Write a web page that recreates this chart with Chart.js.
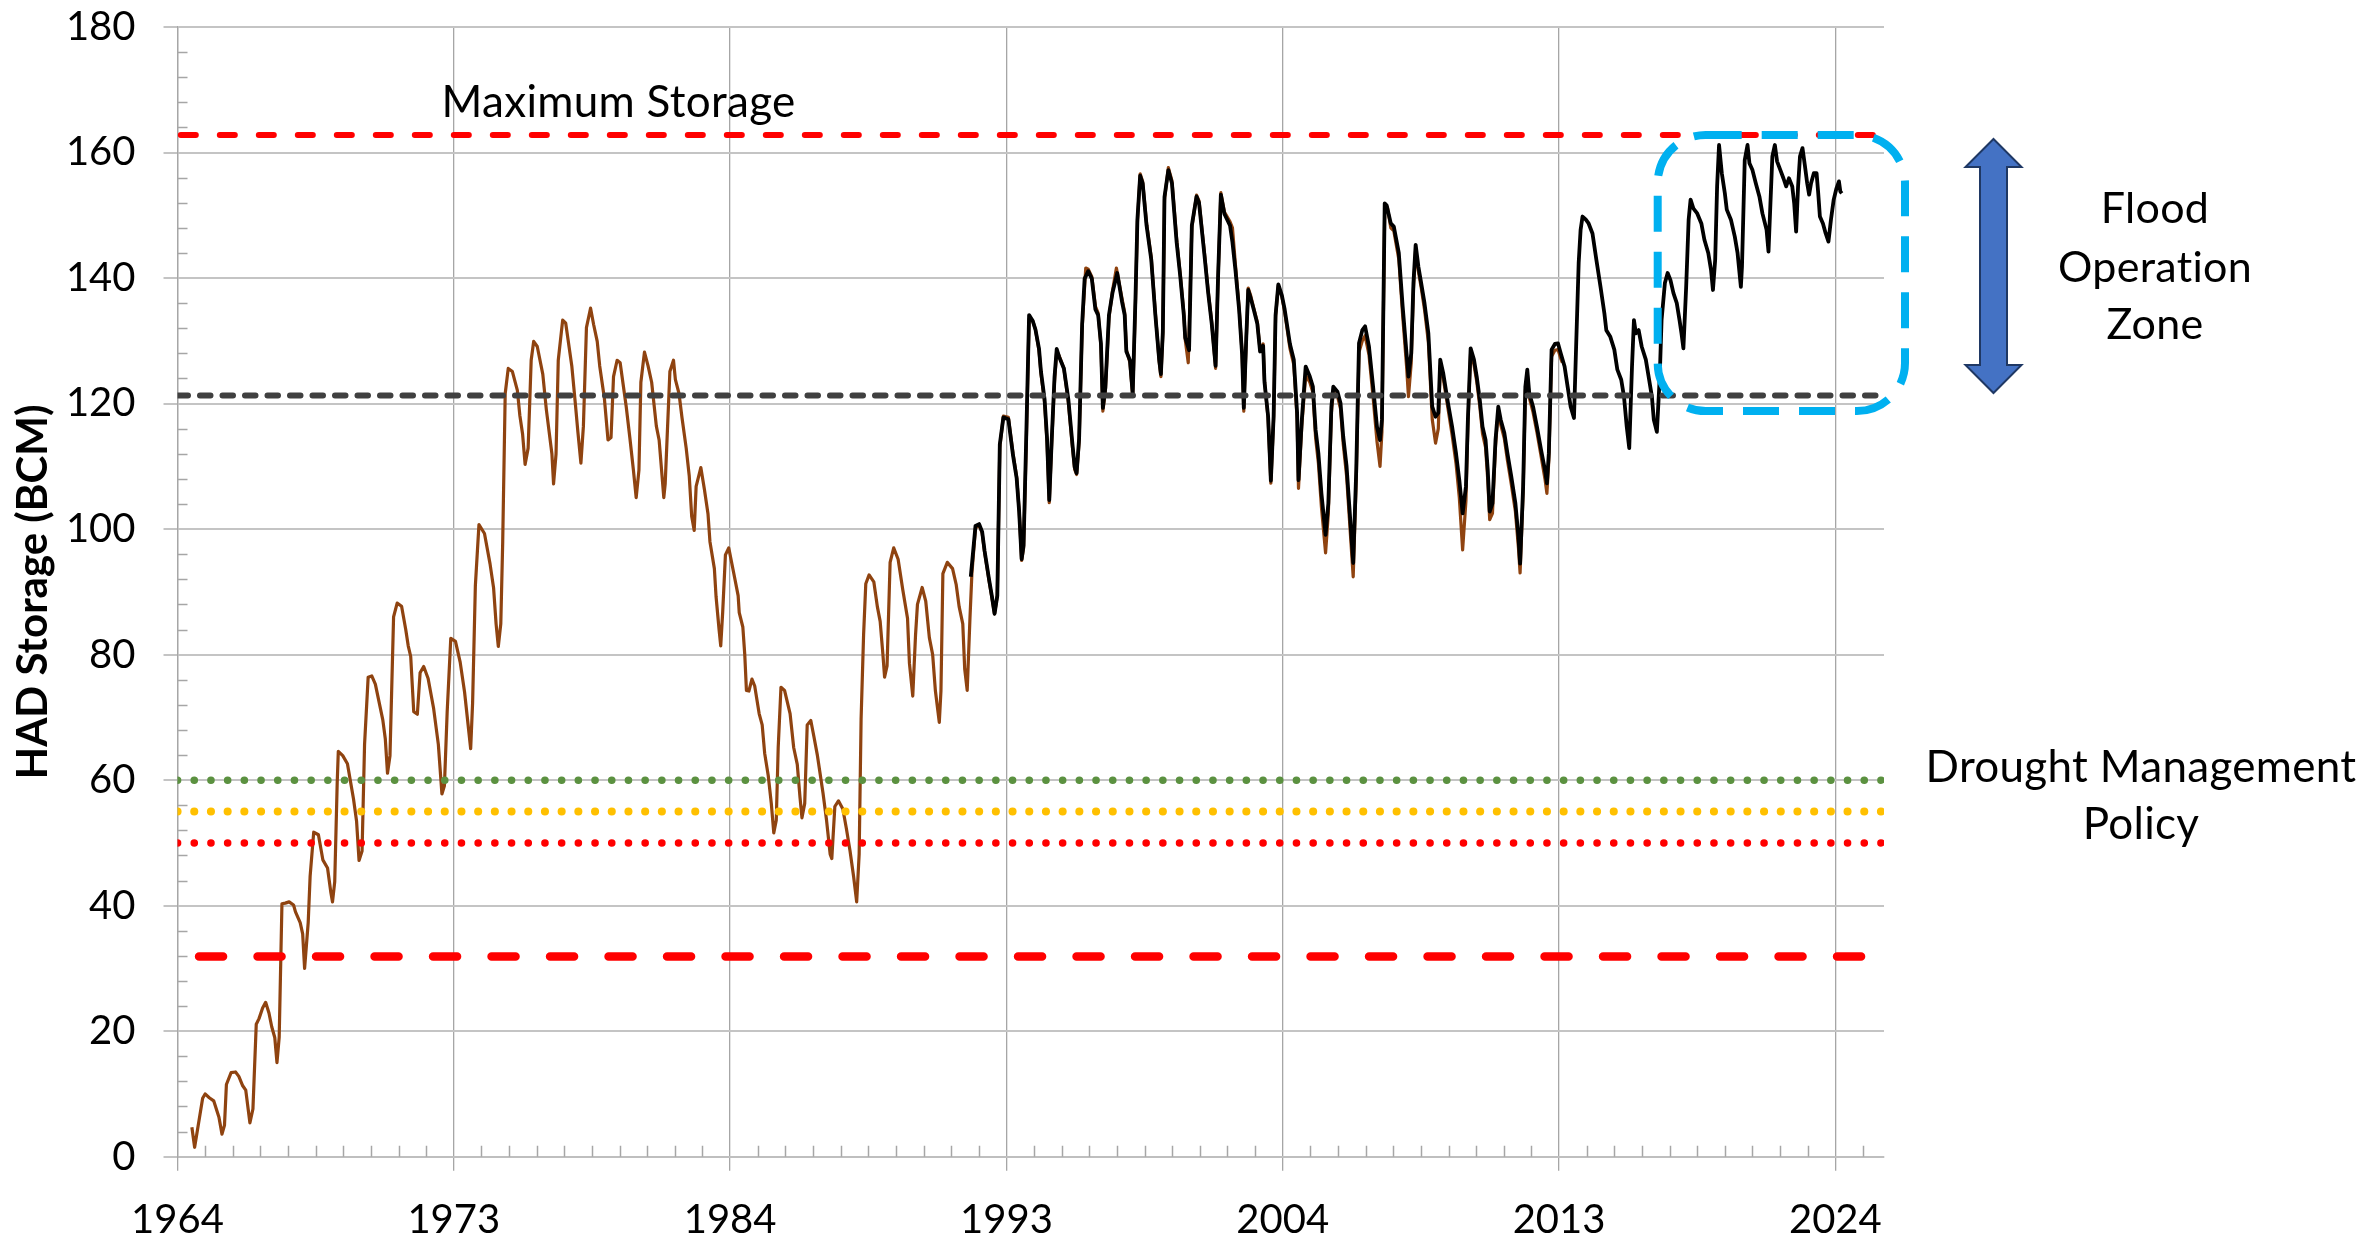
<!DOCTYPE html>
<html>
<head>
<meta charset="utf-8">
<title>HAD Storage</title>
<script src="https://cdn.jsdelivr.net/npm/chart.js@4.4.1/dist/chart.umd.min.js"></script>
<style>
  html, body { margin: 0; padding: 0; background: #fff; }
  .chart-container { position: relative; width: 2364px; height: 1239px; }
</style>
</head>
<body>
<div class="chart-container"><canvas id="storageChart"></canvas></div>
<script>
// x positions are decimal years along the date axis
const tickYears = [1964, 1974, 1984, 1994, 2004, 2014, 2024];
const tickLabels = ['1964', '1973', '1984', '1993', '2004', '2013', '2024'];

// reference levels (BCM)
const maxStorage = 162.8;
const floodLevel = 121.3;
const droughtGreen = 60;
const droughtAmber = 55;
const droughtRed = 50;
const deadStorage = 31.9;

// older record (brown), [year, BCM]
const historicStorage = [
  [1964.52, 4.7], [1964.62, 1.5], [1964.78, 5.8], [1964.91, 9.3], [1965.0, 10.0], [1965.15, 9.4], [1965.31, 8.9],
  [1965.5, 6.3], [1965.61, 3.6], [1965.7, 5.0], [1965.77, 11.5], [1965.94, 13.4], [1966.1, 13.5], [1966.22, 12.8],
  [1966.36, 11.3], [1966.47, 10.6], [1966.62, 5.4], [1966.73, 7.6], [1966.85, 21.1], [1966.95, 22.0], [1967.08, 23.7],
  [1967.19, 24.6], [1967.31, 22.9], [1967.41, 20.7], [1967.52, 19.0], [1967.6, 15.0], [1967.68, 19.0], [1967.78, 40.3],
  [1967.9, 40.4], [1968.04, 40.6], [1968.2, 40.1], [1968.27, 39.0], [1968.44, 37.3], [1968.53, 35.5], [1968.6, 30.0],
  [1968.73, 37.3], [1968.8, 44.7], [1968.93, 51.7], [1969.1, 51.3], [1969.26, 47.3], [1969.43, 46.0], [1969.55, 42.1],
  [1969.61, 40.6], [1969.69, 43.8], [1969.78, 59.6], [1969.82, 64.6], [1969.98, 63.9], [1970.15, 62.6], [1970.37, 57.0],
  [1970.48, 53.5], [1970.57, 47.2], [1970.68, 48.7], [1970.77, 65.7], [1970.9, 76.4], [1971.03, 76.6], [1971.16, 75.3],
  [1971.43, 69.6], [1971.52, 66.6], [1971.6, 61.1], [1971.69, 63.9], [1971.82, 86.0], [1971.95, 88.2], [1972.11, 87.7],
  [1972.26, 84.0], [1972.35, 81.4], [1972.44, 79.7], [1972.55, 70.9], [1972.68, 70.5], [1972.78, 77.1], [1972.91, 78.1],
  [1973.07, 76.2], [1973.27, 71.4], [1973.44, 65.7], [1973.57, 57.8], [1973.66, 59.1], [1973.76, 70.9], [1973.89, 82.6],
  [1974.06, 82.1], [1974.23, 78.8], [1974.39, 74.0], [1974.61, 65.0], [1974.68, 72.3], [1974.78, 91.0], [1974.91, 100.7],
  [1975.11, 99.3], [1975.31, 94.5], [1975.44, 90.6], [1975.53, 84.9], [1975.61, 81.3], [1975.7, 84.9], [1975.77, 98.0],
  [1975.86, 121.6], [1975.97, 125.6], [1976.12, 125.1], [1976.3, 122.1], [1976.39, 118.1], [1976.49, 115.1], [1976.58, 110.3],
  [1976.69, 112.9], [1976.8, 126.9], [1976.89, 129.9], [1977.02, 129.1], [1977.22, 124.7], [1977.35, 119.0], [1977.55, 112.0],
  [1977.61, 107.2], [1977.7, 112.0], [1977.78, 126.9], [1977.94, 133.3], [1978.05, 132.8], [1978.27, 126.0], [1978.4, 119.9],
  [1978.49, 115.5], [1978.6, 110.5], [1978.69, 116.4], [1978.8, 132.1], [1978.95, 135.2], [1979.06, 132.6], [1979.19, 129.9],
  [1979.28, 126.0], [1979.45, 120.8], [1979.58, 114.2], [1979.69, 114.6], [1979.78, 124.3], [1979.91, 126.9], [1980.02, 126.5],
  [1980.24, 119.5], [1980.37, 114.6], [1980.5, 109.4], [1980.6, 105.0], [1980.7, 109.4], [1980.77, 123.4], [1980.9, 128.2],
  [1981.03, 126.0], [1981.16, 123.4], [1981.33, 116.4], [1981.43, 114.2], [1981.6, 105.0], [1981.65, 107.2], [1981.82, 125.1],
  [1981.95, 126.9], [1982.02, 123.8], [1982.15, 121.6], [1982.26, 117.7], [1982.41, 112.9], [1982.52, 108.5], [1982.61, 102.0],
  [1982.7, 99.8], [1982.77, 106.8], [1982.94, 109.8], [1983.07, 106.3], [1983.2, 102.4], [1983.27, 98.0], [1983.43, 93.7],
  [1983.49, 89.3], [1983.6, 84.0], [1983.66, 81.4], [1983.73, 86.7], [1983.83, 95.9], [1983.95, 97.0], [1984.13, 93.0],
  [1984.29, 89.4], [1984.33, 86.7], [1984.46, 84.4], [1984.53, 80.0], [1984.59, 74.3], [1984.68, 74.2], [1984.79, 76.1],
  [1984.89, 75.0], [1985.05, 70.6], [1985.16, 68.8], [1985.25, 64.3], [1985.38, 60.7], [1985.49, 56.3], [1985.58, 51.6],
  [1985.67, 53.6], [1985.74, 65.2], [1985.84, 74.8], [1985.97, 74.3], [1986.17, 70.6], [1986.3, 65.2], [1986.43, 62.5],
  [1986.53, 57.2], [1986.6, 54.0], [1986.7, 56.3], [1986.79, 68.8], [1986.92, 69.5], [1987.03, 67.0], [1987.16, 63.9],
  [1987.36, 58.0], [1987.49, 53.6], [1987.62, 48.2], [1987.68, 47.5], [1987.79, 55.8], [1987.92, 56.7], [1988.08, 55.4],
  [1988.21, 52.2], [1988.34, 48.7], [1988.47, 44.6], [1988.58, 40.6], [1988.67, 48.2], [1988.74, 69.7], [1988.83, 83.1],
  [1988.91, 91.3], [1989.03, 92.7], [1989.2, 91.6], [1989.33, 87.6], [1989.43, 85.3], [1989.53, 80.0], [1989.59, 76.4],
  [1989.68, 78.2], [1989.79, 94.7], [1989.92, 97.0], [1990.08, 95.2], [1990.25, 90.3], [1990.42, 85.8], [1990.49, 78.6],
  [1990.61, 73.4], [1990.71, 83.1], [1990.78, 88.0], [1990.95, 90.7], [1991.08, 88.5], [1991.21, 82.7], [1991.33, 80.0],
  [1991.43, 74.2], [1991.57, 69.2], [1991.63, 74.2], [1991.7, 92.9], [1991.86, 94.7], [1992.05, 93.7], [1992.18, 91.2],
  [1992.29, 87.6], [1992.42, 84.9], [1992.49, 77.7], [1992.58, 74.3], [1992.68, 85.8], [1992.75, 92.9], [1992.88, 100.2],
  [1993.01, 100.6], [1993.12, 99.4], [1993.21, 96.3], [1993.37, 91.8], [1993.47, 89.2], [1993.57, 86.5], [1993.67, 89.4],
  [1993.76, 113.0], [1993.89, 118.0], [1994.07, 117.8], [1994.24, 112.0], [1994.37, 108.3], [1994.46, 103.0], [1994.55, 95.0],
  [1994.62, 97.0], [1994.72, 114.0], [1994.82, 133.5], [1994.95, 133.2], [1995.05, 131.8], [1995.18, 128.4], [1995.25, 124.8],
  [1995.38, 120.2], [1995.47, 113.8], [1995.55, 104.2], [1995.64, 113.8], [1995.74, 123.5], [1995.82, 128.4], [1995.91, 127.6],
  [1996.08, 125.6], [1996.24, 120.2], [1996.39, 113.0], [1996.47, 109.5], [1996.54, 108.7], [1996.63, 113.8], [1996.74, 132.0],
  [1996.87, 141.6], [1996.96, 141.4], [1997.09, 140.2], [1997.22, 135.5], [1997.32, 134.4], [1997.42, 129.2], [1997.49, 118.8],
  [1997.58, 122.0], [1997.71, 133.6], [1997.84, 138.0], [1997.98, 141.6], [1998.18, 136.8], [1998.28, 134.5], [1998.34, 128.6],
  [1998.47, 126.5], [1998.57, 121.2], [1998.67, 136.0], [1998.74, 148.9], [1998.84, 156.6], [1998.93, 155.4], [1999.07, 148.8],
  [1999.24, 143.3], [1999.39, 134.4], [1999.53, 126.6], [1999.59, 124.3], [1999.66, 131.0], [1999.72, 152.5], [1999.86, 157.6],
  [1999.99, 155.5], [2000.16, 146.2], [2000.29, 140.6], [2000.42, 134.4], [2000.47, 130.2], [2000.58, 126.5], [2000.71, 148.0],
  [2000.88, 153.2], [2000.97, 152.3], [2001.17, 143.9], [2001.3, 138.0], [2001.43, 133.0], [2001.57, 125.6], [2001.66, 140.0],
  [2001.76, 153.6], [2001.89, 150.5], [2002.09, 149.0], [2002.18, 148.0], [2002.29, 142.0], [2002.42, 135.4], [2002.53, 128.0],
  [2002.59, 118.8], [2002.68, 130.2], [2002.75, 138.4], [2002.84, 137.2], [2002.95, 135.2], [2003.08, 133.0], [2003.18, 128.5],
  [2003.29, 129.5], [2003.34, 123.6], [2003.47, 117.6], [2003.57, 107.3], [2003.67, 117.6], [2003.74, 133.8], [2003.84, 138.8],
  [2003.97, 137.0], [2004.07, 134.6], [2004.26, 128.8], [2004.4, 126.2], [2004.52, 117.5], [2004.57, 106.5], [2004.69, 116.5],
  [2004.83, 124.5], [2004.98, 123.4], [2005.09, 121.8], [2005.19, 114.5], [2005.29, 110.5], [2005.4, 103.5], [2005.55, 96.2],
  [2005.65, 102.5], [2005.76, 118.5], [2005.83, 121.8], [2005.98, 121.2], [2006.09, 119.2], [2006.19, 113.5], [2006.31, 108.5],
  [2006.41, 101.8], [2006.55, 92.4], [2006.66, 108.0], [2006.76, 128.2], [2006.88, 130.0], [2006.98, 130.8], [2007.12, 127.8],
  [2007.27, 121.0], [2007.41, 114.0], [2007.52, 110.0], [2007.59, 115.5], [2007.69, 151.0], [2007.79, 151.2], [2007.91, 148.0],
  [2008.02, 147.5], [2008.2, 143.0], [2008.34, 134.0], [2008.48, 126.0], [2008.55, 121.1], [2008.65, 126.5], [2008.73, 138.2],
  [2008.81, 144.6], [2008.91, 141.0], [2009.01, 138.5], [2009.13, 135.0], [2009.27, 129.8], [2009.41, 117.5], [2009.53, 113.7],
  [2009.63, 116.0], [2009.7, 126.0], [2009.81, 124.0], [2009.98, 119.2], [2010.13, 115.0], [2010.27, 110.5], [2010.39, 105.0],
  [2010.51, 96.7], [2010.63, 104.5], [2010.7, 116.5], [2010.8, 128.2], [2010.92, 126.2], [2011.02, 123.5], [2011.13, 119.6],
  [2011.23, 115.2], [2011.34, 113.0], [2011.42, 107.8], [2011.49, 101.5], [2011.59, 102.5], [2011.7, 113.2], [2011.8, 118.8],
  [2011.89, 116.6], [2012.02, 114.4], [2012.13, 111.0], [2012.27, 107.2], [2012.42, 102.8], [2012.53, 97.0], [2012.59, 93.0],
  [2012.7, 105.8], [2012.78, 122.0], [2012.85, 124.8], [2012.92, 121.0], [2013.06, 118.6], [2013.2, 115.4], [2013.35, 111.6],
  [2013.49, 108.0], [2013.56, 105.7], [2013.63, 111.0], [2013.73, 127.5], [2013.85, 128.5], [2013.96, 128.6], [2014.06, 127.2],
  [2014.12, 126.5]
];

// recent record (black), [year, BCM]
const recentStorage = [
  [1992.71, 92.4], [1992.88, 100.5], [1993.01, 100.8], [1993.12, 99.6], [1993.21, 96.5], [1993.37, 92.0], [1993.47, 89.4],
  [1993.57, 86.5], [1993.67, 89.4], [1993.76, 113.5], [1993.89, 117.8], [1994.07, 117.5], [1994.24, 111.7], [1994.37, 108.1],
  [1994.46, 102.8], [1994.55, 95.2], [1994.62, 97.4], [1994.72, 115.3], [1994.82, 134.1], [1994.95, 133.2], [1995.05, 131.8],
  [1995.18, 128.7], [1995.25, 125.1], [1995.38, 120.7], [1995.47, 114.4], [1995.55, 104.6], [1995.64, 114.4], [1995.74, 124.2],
  [1995.82, 128.7], [1995.91, 127.4], [1996.08, 125.6], [1996.24, 120.7], [1996.39, 113.5], [1996.47, 109.9], [1996.54, 108.9],
  [1996.63, 114.4], [1996.74, 132.7], [1996.83, 139.9], [1996.96, 141.1], [1997.09, 139.9], [1997.22, 135.0], [1997.32, 134.1],
  [1997.42, 129.6], [1997.49, 119.3], [1997.58, 122.5], [1997.71, 134.1], [1997.84, 137.7], [1998.01, 140.8], [1998.18, 136.3],
  [1998.28, 134.1], [1998.34, 128.3], [1998.47, 126.9], [1998.57, 121.6], [1998.67, 136.8], [1998.74, 149.3], [1998.84, 156.3],
  [1998.93, 155.1], [1999.07, 148.4], [1999.24, 143.0], [1999.39, 134.1], [1999.53, 126.9], [1999.59, 124.7], [1999.66, 131.4],
  [1999.72, 152.9], [1999.86, 157.2], [1999.99, 155.1], [2000.16, 145.7], [2000.29, 140.3], [2000.42, 134.1], [2000.47, 130.5],
  [2000.61, 128.5], [2000.71, 148.4], [2000.88, 153.0], [2000.97, 152.0], [2001.17, 143.5], [2001.3, 137.7], [2001.43, 132.7],
  [2001.57, 126.0], [2001.66, 140.3], [2001.76, 153.3], [2001.89, 150.2], [2002.09, 148.4], [2002.18, 145.7], [2002.29, 141.2],
  [2002.42, 135.0], [2002.53, 127.8], [2002.59, 119.3], [2002.68, 130.5], [2002.75, 138.1], [2002.84, 136.8], [2002.95, 135.0],
  [2003.08, 132.7], [2003.18, 128.3], [2003.29, 129.2], [2003.34, 123.4], [2003.47, 118.0], [2003.57, 107.7], [2003.67, 118.0],
  [2003.74, 134.1], [2003.84, 139.0], [2003.97, 137.2], [2004.07, 135.0], [2004.26, 129.5], [2004.4, 127.0], [2004.52, 118.5],
  [2004.57, 107.8], [2004.69, 117.4], [2004.83, 125.9], [2004.98, 124.3], [2005.09, 122.7], [2005.19, 115.8], [2005.29, 112.1],
  [2005.4, 105.7], [2005.55, 99.1], [2005.65, 104.1], [2005.76, 119.5], [2005.83, 122.7], [2005.98, 121.9], [2006.09, 120.1],
  [2006.19, 114.7], [2006.31, 110.0], [2006.41, 103.6], [2006.55, 94.6], [2006.66, 109.4], [2006.76, 129.6], [2006.88, 131.7],
  [2006.98, 132.3], [2007.12, 129.1], [2007.27, 122.7], [2007.41, 116.3], [2007.52, 114.2], [2007.59, 117.4], [2007.69, 151.9],
  [2007.76, 151.6], [2007.91, 148.7], [2008.02, 148.2], [2008.2, 144.0], [2008.34, 135.5], [2008.48, 128.0], [2008.55, 124.3],
  [2008.65, 128.0], [2008.73, 139.2], [2008.81, 145.3], [2008.91, 141.8], [2009.01, 139.2], [2009.13, 136.0], [2009.27, 131.2],
  [2009.41, 119.5], [2009.53, 117.9], [2009.63, 118.5], [2009.7, 127.0], [2009.81, 124.8], [2009.98, 120.1], [2010.13, 116.3],
  [2010.27, 112.1], [2010.39, 107.8], [2010.51, 102.5], [2010.63, 106.8], [2010.7, 117.4], [2010.8, 128.8], [2010.92, 127.0],
  [2011.02, 124.3], [2011.13, 120.6], [2011.23, 116.3], [2011.34, 114.2], [2011.42, 109.4], [2011.49, 102.8], [2011.59, 104.1],
  [2011.7, 114.2], [2011.8, 119.5], [2011.89, 117.4], [2012.02, 115.3], [2012.13, 112.1], [2012.27, 108.4], [2012.42, 104.1],
  [2012.53, 98.8], [2012.59, 94.5], [2012.7, 106.8], [2012.78, 122.7], [2012.85, 125.4], [2012.92, 121.7], [2013.06, 119.5],
  [2013.2, 116.3], [2013.35, 112.6], [2013.49, 109.4], [2013.56, 107.3], [2013.63, 112.1], [2013.73, 128.6], [2013.85, 129.5],
  [2013.96, 129.6], [2014.06, 128.0], [2014.2, 125.9], [2014.31, 122.7], [2014.42, 119.5], [2014.54, 117.7], [2014.61, 128.0],
  [2014.71, 142.4], [2014.78, 147.7], [2014.85, 149.8], [2014.97, 149.3], [2015.07, 148.7], [2015.21, 147.1], [2015.35, 142.9],
  [2015.5, 138.6], [2015.64, 134.4], [2015.71, 131.7], [2015.85, 130.7], [2016.0, 128.6], [2016.11, 125.4], [2016.25, 123.8],
  [2016.35, 121.1], [2016.45, 116.3], [2016.54, 112.9], [2016.64, 125.9], [2016.71, 133.3], [2016.78, 131.2], [2016.88, 131.7],
  [2016.99, 129.1], [2017.14, 127.0], [2017.26, 123.8], [2017.36, 121.1], [2017.43, 117.4], [2017.54, 115.5], [2017.64, 123.8],
  [2017.71, 133.3], [2017.83, 139.2], [2017.93, 140.8], [2018.03, 139.7], [2018.14, 137.6], [2018.26, 136.0], [2018.36, 133.3],
  [2018.43, 131.2], [2018.5, 128.8], [2018.6, 138.6], [2018.69, 149.3], [2018.76, 152.5], [2018.86, 151.1], [2019.0, 150.3],
  [2019.15, 148.7], [2019.26, 146.1], [2019.4, 144.0], [2019.5, 141.3], [2019.57, 138.1], [2019.65, 142.9], [2019.72, 154.6],
  [2019.79, 161.2], [2019.89, 156.7], [2020.0, 153.5], [2020.07, 150.9], [2020.22, 149.3], [2020.36, 146.6], [2020.46, 144.0],
  [2020.58, 138.6], [2020.62, 141.8], [2020.72, 158.8], [2020.82, 161.2], [2020.89, 158.3], [2021.0, 157.2], [2021.12, 155.1],
  [2021.25, 153.0], [2021.36, 150.3], [2021.51, 147.7], [2021.58, 144.2], [2021.65, 151.9], [2021.72, 159.4], [2021.81, 161.2],
  [2021.89, 158.6], [2022.01, 157.2], [2022.12, 155.9], [2022.22, 154.6], [2022.32, 155.9], [2022.44, 154.6], [2022.51, 151.9],
  [2022.58, 147.4], [2022.65, 154.6], [2022.72, 159.4], [2022.81, 160.7], [2022.9, 157.8], [2022.98, 155.1], [2023.05, 153.3],
  [2023.12, 155.1], [2023.22, 156.7], [2023.32, 156.7], [2023.38, 153.5], [2023.44, 149.8], [2023.55, 148.7], [2023.65, 147.1],
  [2023.75, 145.8], [2023.84, 149.3], [2023.94, 152.5], [2024.04, 154.3], [2024.13, 155.4], [2024.18, 153.8], [2024.23, 153.5]
];

const FONT = 'Lato';
const xMin = 1964;
const xMax = 2025.76;

const toPoints = rows => rows.map(([x, y]) => ({ x, y }));
const level = (value, from, to) => [{ x: from, y: value }, { x: to, y: value }];

const refLine = (data, color, width, dash) => ({
  data, borderColor: color, borderWidth: width, borderDash: dash,
  borderCapStyle: 'round', pointRadius: 0, order: 0
});

// minor tick marks inside the axes
const minorTicks = {
  id: 'minorTicks',
  beforeDatasetsDraw(chart) {
    const { ctx, chartArea: a, scales: { x, y } } = chart;
    ctx.save();
    ctx.strokeStyle = '#A6A6A6';
    ctx.lineWidth = 1.5;
    ctx.beginPath();
    for (let v = 4; v < 180; v += 4) {
      if (v % 20 === 0) continue;
      const py = Math.round(y.getPixelForValue(v)) + 0.5;
      ctx.moveTo(a.left, py);
      ctx.lineTo(a.left + 10, py);
    }
    for (let yr = 1965; yr <= 2025; yr++) {
      if ((yr - 1964) % 10 === 0) continue;
      const px = Math.round(x.getPixelForValue(yr)) + 0.5;
      ctx.moveTo(px, a.bottom);
      ctx.lineTo(px, a.bottom - 11);
    }
    ctx.stroke();
    ctx.restore();
  }
};

// flood zone box, arrow and text notes
const notes = {
  id: 'notes',
  afterDatasetsDraw(chart) {
    const { ctx, scales: { x, y } } = chart;
    ctx.save();

    // dashed rounded box around the recent record
    const l = x.getPixelForValue(2017.57), r = x.getPixelForValue(2026.52);
    const t = y.getPixelForValue(162.8), b = y.getPixelForValue(118.8);
    const rad = 48;
    ctx.strokeStyle = '#00B0F0';
    ctx.lineWidth = 8;
    ctx.setLineDash([36, 20]);
    ctx.beginPath();
    ctx.moveTo(l + rad, t);
    ctx.lineTo(r - rad, t);
    ctx.arcTo(r, t, r, t + rad, rad);
    ctx.lineTo(r, b - rad);
    ctx.arcTo(r, b, r - rad, b, rad);
    ctx.lineTo(l + rad, b);
    ctx.arcTo(l, b, l, b - rad, rad);
    ctx.lineTo(l, t + rad);
    ctx.arcTo(l, t, l + rad, t, rad);
    ctx.closePath();
    ctx.stroke();
    ctx.setLineDash([]);

    // double headed arrow
    const cx = 1993.5, top = 139, bot = 393, head = 28, hw = 28, sw = 13.5;
    ctx.beginPath();
    ctx.moveTo(cx, top);
    ctx.lineTo(cx + hw, top + head);
    ctx.lineTo(cx + sw, top + head);
    ctx.lineTo(cx + sw, bot - head);
    ctx.lineTo(cx + hw, bot - head);
    ctx.lineTo(cx, bot);
    ctx.lineTo(cx - hw, bot - head);
    ctx.lineTo(cx - sw, bot - head);
    ctx.lineTo(cx - sw, top + head);
    ctx.lineTo(cx - hw, top + head);
    ctx.closePath();
    ctx.fillStyle = '#4472C4';
    ctx.fill();
    ctx.strokeStyle = '#1F3864';
    ctx.lineWidth = 2;
    ctx.stroke();

    // text
    ctx.fillStyle = '#000';
    ctx.textAlign = 'center';
    ctx.textBaseline = 'alphabetic';
    ctx.letterSpacing = '0.3px';
    ctx.font = `44px ${FONT}`;
    ctx.fillText('Maximum Storage', 618.5, 117);
    ctx.font = `43px ${FONT}`;
    ctx.fillText('Flood', 2155, 223);
    ctx.fillText('Operation', 2155, 281.5);
    ctx.fillText('Zone', 2155, 338.5);
    ctx.font = `44px ${FONT}`;
    ctx.fillText('Drought Management', 2141, 781.5);
    ctx.fillText('Policy', 2141, 839);
    ctx.restore();
  }
};

const ctx = document.getElementById('storageChart').getContext('2d');

new Chart(ctx, {
  type: 'line',
  data: {
    datasets: [
      refLine(level(maxStorage, 1964.12, xMax), '#FF0000', 6, [15, 24]),
      refLine(level(floodLevel, xMin, xMax), '#404040', 6, [10.5, 12]),
      refLine(level(droughtGreen, xMin, xMax), '#5B9140', 7.5, [0.1, 16.6]),
      refLine(level(droughtAmber, xMin, xMax), '#FFC000', 8, [0.1, 16.6]),
      refLine(level(droughtRed, xMin, xMax), '#FF0000', 7.5, [0.1, 16.6]),
      refLine(level(deadStorage, 1964.78, 2025.36), '#FF0000', 8.5, [24, 34.5]),
      {
        data: toPoints(recentStorage),
        borderColor: '#000000',
        borderWidth: 3.8,
        pointRadius: 0,
        order: 1
      },
      {
        data: toPoints(historicStorage),
        borderColor: '#8F4310',
        borderWidth: 3.2,
        pointRadius: 0,
        order: 2
      }
    ]
  },
  options: {
    responsive: true,
    maintainAspectRatio: false,
    animation: false,
    devicePixelRatio: 1,
    layout: { padding: { top: 27, right: 480, bottom: 0, left: 0 } },
    plugins: {
      legend: { display: false },
      tooltip: { enabled: false }
    },
    elements: { line: { tension: 0, borderJoinStyle: 'round' } },
    scales: {
      x: {
        type: 'linear',
        min: xMin,
        max: xMax,
        afterBuildTicks: scale => { scale.ticks = tickYears.map(v => ({ value: v })); },
        afterFit: scale => { scale.height = 82.3; },
        ticks: {
          autoSkip: false,
          maxRotation: 0,
          padding: 25,
          color: '#000',
          font: { family: FONT, size: 40 },
          callback: (value, index) => tickLabels[index]
        },
        grid: { color: '#A6A6A6', lineWidth: 1.3, tickLength: 14 },
        border: { color: '#BFBFBF', width: 2 }
      },
      y: {
        min: 0,
        max: 180,
        afterFit: scale => {
          scale.width = 177.5;
          // keep the plot top fixed; labels may overhang into the padding
          scale.paddingTop = 0;
          scale.paddingBottom = 0;
        },
        ticks: {
          stepSize: 20,
          padding: 28,
          color: '#000',
          font: { family: FONT, size: 40 }
        },
        grid: { color: '#C4C4C4', lineWidth: 2, tickLength: 14 },
        border: { color: '#A6A6A6', width: 1.3 },
        title: {
          display: true,
          text: 'HAD Storage (BCM)',
          color: '#000',
          font: { family: FONT, size: 42, weight: 'bold' },
          padding: { top: 8, bottom: 0 }
        }
      }
    }
  },
  plugins: [minorTicks, notes]
});
</script>
</body>
</html>
